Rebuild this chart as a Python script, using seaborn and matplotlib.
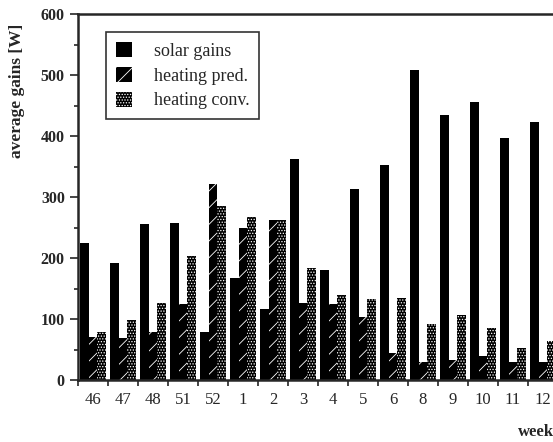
import pandas as pd
import numpy as np
import matplotlib
matplotlib.use("Agg")
import matplotlib.pyplot as plt
import seaborn as sns
from matplotlib.ticker import MultipleLocator, FixedLocator

# data
weeks = ["46", "47", "48", "51", "52", "1", "2", "3", "4", "5", "6", "8", "9", "10", "11", "12"]
solar_gains = [225, 191, 255, 257, 78, 168, 117, 363, 180, 313, 352, 508, 434, 456, 397, 423]
heating_pred = [71, 69, 78, 125, 321, 249, 262, 127, 124, 104, 45, 30, 33, 39, 30, 30]
heating_conv = [78, 98, 127, 203, 286, 267, 262, 183, 140, 133, 135, 92, 107, 86, 52, 64]
series_names = ["solar gains", "heating pred.", "heating conv."]

df = pd.DataFrame({"week": weeks,
                   series_names[0]: solar_gains,
                   series_names[1]: heating_pred,
                   series_names[2]: heating_conv})
long = df.melt(id_vars="week", var_name="series", value_name="gains")

sns.set_style("ticks")
plt.rcParams["font.family"] = ["Liberation Serif", "DejaVu Serif"]
plt.rcParams["hatch.linewidth"] = 0.6

fig = plt.figure(figsize=(5.53, 4.42), dpi=100)
ax = fig.add_axes([78 / 553, 62 / 442, 475 / 553, 366 / 442])

sns.barplot(data=long, x="week", y="gains", hue="series", order=weeks,
            hue_order=series_names, palette=["black", "black", "black"],
            width=0.84, gap=0, errorbar=None, ax=ax)

# patterns: solid / diagonal dashes / dots (white hatching on black)
hatches = {series_names[0]: "", series_names[1]: "//", series_names[2]: "......"}
n = len(weeks)
for k, name in enumerate(series_names):
    for p in ax.patches[k * n:(k + 1) * n]:
        p.set_hatch(hatches[name])
        p.set_edgecolor("white" if hatches[name] else "black")
        p.set_linewidth(0)

leg = ax.legend(loc="upper left", bbox_to_anchor=(0.059, 0.951), borderaxespad=0,
                frameon=True, fancybox=False, edgecolor="black", fontsize=13,
                handlelength=0.9, handleheight=0.9, handletextpad=1.2,
                borderpad=0.55, labelspacing=0.4)
leg.get_frame().set_linewidth(1.2)
for h, name in zip(leg.legend_handles, series_names):
    h.set_hatch(hatches[name])
    h.set_edgecolor("white" if hatches[name] else "black")
    h.set_linewidth(0)

ax.set_ylim(0, 600)
ax.set_xlim(-0.5, -0.5 + 475 / 30)
ax.yaxis.set_major_locator(MultipleLocator(100))
ax.yaxis.set_minor_locator(MultipleLocator(50))
ax.xaxis.set_minor_locator(FixedLocator(np.arange(n + 1) - 0.5))
ax.tick_params(axis="x", which="major", length=0, pad=9, labelsize=12)
ax.tick_params(axis="x", which="minor", length=4, width=1.2, direction="out")
ax.tick_params(axis="y", which="major", length=6, width=1.2, labelsize=11.5)
ax.tick_params(axis="y", which="minor", length=3, width=1.2)
for t in ax.get_yticklabels():
    t.set_fontweight("bold")

for s in ["left", "top", "bottom"]:
    ax.spines[s].set_linewidth(1.8)
    ax.spines[s].set_visible(True)
ax.spines["right"].set_visible(False)

ax.set_ylabel("average gains [W]", fontsize=12.5, fontweight="bold")
ax.yaxis.set_label_coords(-0.112, 0.79)
ax.set_xlabel("week", fontsize=12, fontweight="bold")
ax.xaxis.set_label_coords(0.964, -0.12)

fig.savefig("out.png", dpi=100)
